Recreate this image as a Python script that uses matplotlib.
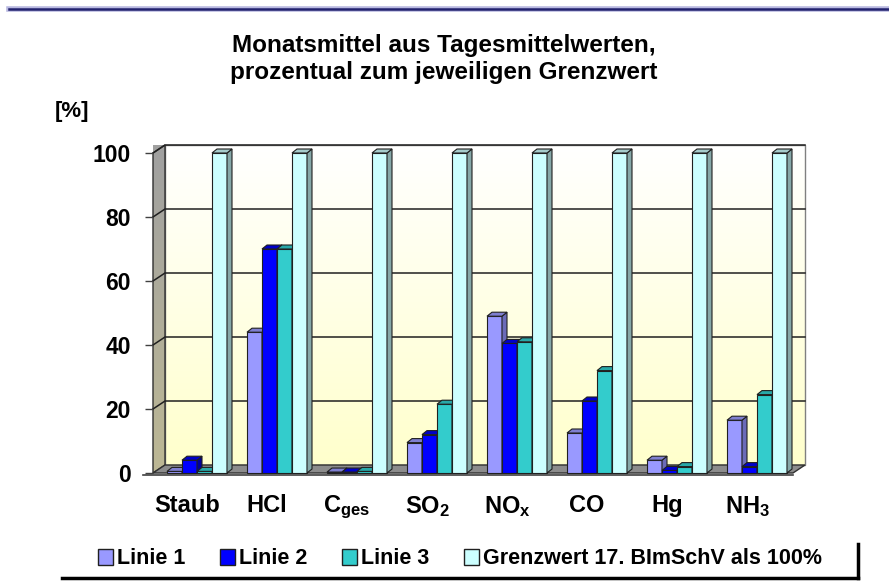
import matplotlib

matplotlib.use("Agg")
import matplotlib.pyplot as plt
import numpy as np
from matplotlib.patches import Polygon, Patch
from matplotlib.lines import Line2D
from matplotlib.colors import LinearSegmentedColormap
from matplotlib.transforms import ScaledTranslation

plt.rcParams["font.family"] = ["Liberation Sans", "DejaVu Sans"]
plt.rcParams["font.weight"] = "bold"
plt.rcParams["mathtext.fontset"] = "custom"
plt.rcParams["mathtext.rm"] = "Liberation Sans:bold"
plt.rcParams["mathtext.it"] = "Liberation Sans:bold"
plt.rcParams["mathtext.bf"] = "Liberation Sans:bold"

# --- Daten (Prozent vom jeweiligen Grenzwert) ---
stoffe = ["Staub", "HCl", r"C$_{ges}$", r"SO$_2$", r"NO$_x$", "CO", "Hg", r"NH$_3$"]
linie1 = [0.5, 44, 0.3, 9.5, 49, 12.5, 4, 16.5]
linie2 = [4, 70, 0.3, 12, 40.5, 22.5, 0.8, 2]
linie3 = [0.5, 70, 0.5, 21.5, 41, 32, 2, 24.5]
grenzwert = [100] * 8
serien = ["Linie 1", "Linie 2", "Linie 3", "Grenzwert 17. BImSchV als 100%"]
yticks = [0, 20, 40, 60, 80, 100]

front = ["#9999FF", "#0000FF", "#33CCCC", "#CCFFFF"]
seite = ["#6B6BB8", "#00009A", "#1E8C8C", "#86A8A8"]
oben = ["#7F7FD0", "#0000C8", "#28A8A8", "#A6CCCC"]

fig = plt.figure(figsize=(8.89, 5.85), dpi=100)
W, H = 889, 585
ax = fig.add_axes([153 / W, (H - 473) / H, (793 - 153) / W, 320 / H])
ax.set_xlim(-0.55, 7.45)
ax.set_ylim(0, 100)
for s in ax.spines.values():
    s.set_visible(False)

# Tiefe in Datenkoordinaten
wdx, wdy = 0.15, 2.5  # Wand
bdx, bdy = 0.0625, 1.25  # Balken
x0, x1 = -0.55, 7.45

# Rückwand mit Verlauf
cm_back = LinearSegmentedColormap.from_list("bw", ["#FFFFCC", "#FFFFFF"])
ax.imshow(np.linspace(0, 1, 256).reshape(-1, 1), cmap=cm_back, aspect="auto",
          origin="lower", extent=(x0 + wdx, x1 + wdx, wdy, 100 + wdy),
          zorder=0, clip_on=False)
ax.add_patch(Polygon([(x0 + wdx, wdy), (x1 + wdx, wdy), (x1 + wdx, 100 + wdy),
                      (x0 + wdx, 100 + wdy)], closed=True, fill=False,
                     ec="#808080", lw=1, zorder=0.5, clip_on=False))
# linke Wand
cm_left = LinearSegmentedColormap.from_list("lw", ["#BDB894", "#A0A0A0"])
im = ax.imshow(np.linspace(0, 1, 256).reshape(-1, 1), cmap=cm_left, aspect="auto",
               origin="lower", extent=(x0, x0 + wdx, 0, 100 + wdy),
               zorder=0.6, clip_on=False)
lw_poly = Polygon([(x0, 0), (x0 + wdx, wdy), (x0 + wdx, 100 + wdy), (x0, 100)],
                  closed=True, fc="none", ec="#303030", lw=1, zorder=0.7, clip_on=False)
ax.add_patch(lw_poly)
im.set_clip_path(lw_poly)
# Boden
ax.add_patch(Polygon([(x0, 0), (x1, 0), (x1 + wdx, wdy), (x0 + wdx, wdy)], closed=True,
                     fc="#8C8C8C", ec="#303030", lw=1, zorder=0.8, clip_on=False))
ax.plot([x0 - 0.12, x1], [-0.6, -0.6], color="#404040", lw=1.2, zorder=0.8, clip_on=False)

# Gitterlinien
for v in yticks[1:]:
    ax.plot([x0, x0 + wdx, x1 + wdx], [v, v + wdy, v + wdy], color="#202020",
            lw=1.1, zorder=0.9, clip_on=False)

# Balken
x = np.arange(len(stoffe))
bw = 0.1875
for i, (name, vals) in enumerate(zip(serien, [linie1, linie2, linie3, grenzwert])):
    bars = ax.bar(x + (i - 1.5) * bw, vals, bw, color=front[i], edgecolor="#202020",
                  linewidth=0.8, label=name, clip_on=False)
    for j, b in enumerate(bars):
        zz = 2 + j * 10 + i * 2
        b.set_zorder(zz)
        bx, bh = b.get_x(), b.get_height()
        r = bx + b.get_width()
        ax.add_patch(Polygon([(r, 0), (r + bdx, bdy), (r + bdx, bh + bdy), (r, bh)],
                             closed=True, fc=seite[i], ec="#202020", lw=0.8,
                             zorder=zz + 0.5, clip_on=False))
        ax.add_patch(Polygon([(bx, bh), (r, bh), (r + bdx, bh + bdy), (bx + bdx, bh + bdy)],
                             closed=True, fc=oben[i], ec="#202020", lw=0.8,
                             zorder=zz + 0.5, clip_on=False))

# Achsen
ax.set_yticks(yticks)
ax.tick_params(axis="y", length=6, width=1, pad=10, labelsize=16.5, color="#404040")
ax.set_xticks(x)
ax.set_xticklabels(stoffe, fontsize=17, fontweight="bold")
ax.tick_params(axis="x", length=0, pad=15)
for lab in ax.get_xticklabels():
    lab.set_transform(lab.get_transform() + ScaledTranslation(-10 / 100, 0, fig.dpi_scale_trans))

fig.text(444 / W, 1 - 59 / H, "Monatsmittel aus Tagesmittelwerten,\nprozentual zum jeweiligen Grenzwert",
         ha="center", va="center", fontsize=17.5, fontweight="bold", linespacing=1.2)
fig.text(55 / W, 1 - 112 / H, "[%]", ha="left", va="center", fontsize=16, fontweight="bold")

# Legende
handles = [Patch(fc=c, ec="#202020", lw=1) for c in front]
leg = fig.legend(handles, serien, loc="center", bbox_to_anchor=(460 / W, 1 - 559 / H),
                 ncol=4, frameon=False, handlelength=0.7, handleheight=0.7,
                 handletextpad=0.2, columnspacing=1.6, prop={"weight": "bold", "size": 15.5})

# Rahmenlinien
fig.add_artist(Line2D([62 / W, 858 / W], [1 - 578 / H, 1 - 578 / H], color="black", lw=2.5))
fig.add_artist(Line2D([858 / W, 858 / W], [1 - 578 / H, 1 - 544 / H], color="black", lw=2.5))
fig.add_artist(Line2D([9 / W, 1], [1 - 9 / H, 1 - 9 / H], color="#B8B8E0", lw=4))
fig.add_artist(Line2D([9 / W, 1], [1 - 9 / H, 1 - 9 / H], color="#22226E", lw=1.8))

fig.savefig("out.png", dpi=100)
